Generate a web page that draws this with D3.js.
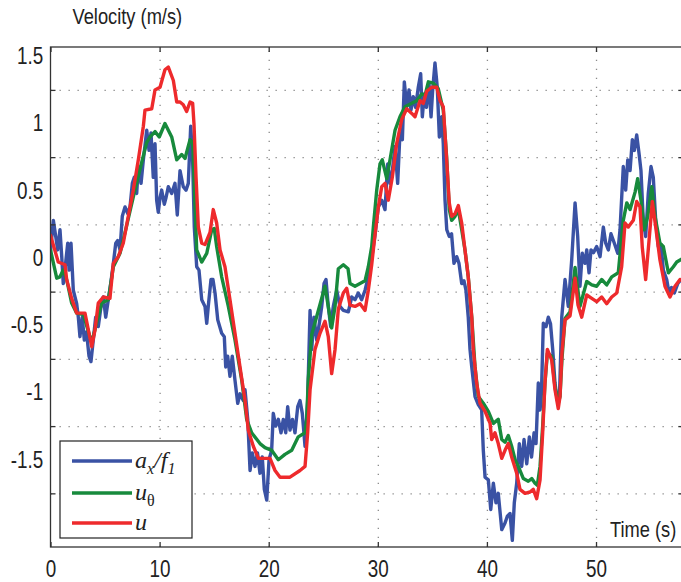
<!DOCTYPE html>
<html lang="en">
<head>
<meta charset="UTF-8">
<title>Velocity vs time</title>
<script src="https://cdn.jsdelivr.net/npm/d3@7"></script>
<style>
  body { margin: 0; background: #fff; }
  svg { display: block; }
  .tick text { font-family: "Liberation Sans", Arial, sans-serif; font-size: 23px; fill: #222; }
  .grid line { stroke: #8a8a8a; stroke-width: 1.3; stroke-dasharray: 1.3 7.7; }
  .grid path, .ticks path, .labels path { display: none; }
  .ticks line { stroke: #333; stroke-width: 1.3; }
  .frame { fill: none; stroke: #333; stroke-width: 1.3; }
  .series { fill: none; stroke-width: 3.4; stroke-linejoin: round; stroke-linecap: round; }
  .title { font-family: "Liberation Sans", Arial, sans-serif; font-size: 22.3px; fill: #222; }
  .legend text { font-family: "Liberation Serif", "DejaVu Serif", serif; font-size: 24px; font-style: italic; fill: #222; }
</style>
</head>
<body>
<div id="chart"></div>
<script>
// a_x / f_1  (blue)
const blueTime = [
  0, 0.26, 0.48, 0.66, 0.87, 1.03, 1.17, 1.37, 1.58, 1.70,
  1.88, 2.09, 2.40, 2.55, 2.70, 2.91, 3.10, 3.30, 3.53, 3.71,
  3.92, 4.14, 4.38, 4.63, 4.84, 5.06, 5.30, 5.52, 5.76, 5.98,
  6.16, 6.37, 6.58, 6.83, 7.08, 7.29, 7.50, 7.68, 7.90, 8.05,
  8.30, 8.51, 8.82, 9.03, 9.21, 9.42, 9.58, 9.73, 9.88, 10.04,
  10.19, 10.43, 10.59, 10.80, 11.11, 11.41, 11.62, 11.87, 12.17, 12.42,
  12.63, 12.85, 13.02, 13.18, 13.40, 13.61, 13.86, 14.16, 14.32, 14.46,
  14.71, 14.89, 15.08, 15.33, 15.69, 15.93, 16.06, 16.24, 16.45, 16.66,
  16.91, 17.16, 17.37, 17.67, 17.83, 18.08, 18.29, 18.50, 18.74, 18.97,
  19.20, 19.41, 19.60, 19.82, 20.03, 20.27, 20.42, 20.64, 20.88, 21.13,
  21.34, 21.56, 21.74, 21.95, 22.18, 22.41, 22.66, 22.87, 23.08, 23.33,
  23.57, 23.79, 23.94, 24.15, 24.40, 24.64, 24.86, 25.07, 25.25, 25.46,
  25.68, 25.92, 26.23, 26.53, 26.84, 27.30, 27.61, 27.91, 28.21, 28.52,
  28.83, 29.13, 29.44, 29.74, 30.05, 30.36, 30.66, 30.91, 31.12, 31.33,
  31.58, 31.82, 32.03, 32.25, 32.43, 32.65, 32.86, 33.04, 33.25, 33.46,
  33.71, 33.93, 34.08, 34.26, 34.46, 34.69, 34.88, 35.03, 35.24, 35.45,
  35.64, 35.86, 36.00, 36.16, 36.32, 36.55, 36.76, 36.98, 37.23, 37.44,
  37.69, 37.90, 38.08, 38.29, 38.45, 38.61, 38.91, 39.21, 39.52, 39.67,
  39.83, 40.13, 40.35, 40.59, 40.83, 41.04, 41.36, 41.66, 41.87, 42.12,
  42.33, 42.51, 42.73, 42.97, 43.19, 43.40, 43.65, 43.89, 44.09, 44.32,
  44.50, 44.71, 44.87, 45.00, 45.17, 45.42, 45.63, 45.83, 46.03, 46.24,
  46.45, 46.65, 46.86, 47.16, 47.46, 47.77, 48.08, 48.32, 48.53, 48.74,
  48.99, 49.15, 49.36, 49.54, 49.77, 50.06, 50.37, 50.67, 50.89, 51.13,
  51.37, 51.68, 51.99, 52.20, 52.50, 52.72, 52.91, 53.12, 53.33, 53.51,
  53.73, 53.94, 54.12, 54.33, 54.55, 54.79, 55.04, 55.25, 55.47, 55.71,
  55.96, 56.17, 56.48, 56.69, 56.92, 57.18, 57.49, 57.79, 58.0
];
const blueVel = [
  0.05, 0.28, 0.16, 0.06, 0.21, 0.01, -0.19, -0.05, 0.11, -0.09,
  0.11, -0.24, -0.34, -0.44, -0.585, -0.44, -0.61, -0.55, -0.73, -0.77,
  -0.61, -0.44, -0.51, -0.36, -0.29, -0.44, -0.31, -0.19, -0.04, 0.11,
  0.13, 0.06, 0.31, 0.38, 0.33, 0.38, 0.555, 0.60, 0.48, 0.68,
  0.555, 0.73, 0.95, 0.80, 0.93, 0.60, 0.85, 0.43, 0.34, 0.45,
  0.505, 0.40, 0.45, 0.53, 0.48, 0.555, 0.32, 0.65, 0.53, 0.505,
  0.555, 0.98, 0.75, 0.23, -0.065, -0.09, -0.31, -0.36, -0.485, -0.36,
  -0.16, -0.16, -0.26, -0.46, -0.56, -0.585, -0.81, -0.73, -0.88, -0.73,
  -0.91, -1.08, -1.01, -1.06, -0.98, -1.20, -1.58, -1.45, -1.55, -1.45,
  -1.60, -1.48, -1.72, -1.80, -1.50, -1.43, -1.155, -1.25, -1.20, -1.30,
  -1.20, -1.30, -1.105, -1.28, -1.20, -1.30, -1.105, -1.06, -1.155, -1.40,
  -1.06, -0.39, -0.68, -0.44, -0.61, -0.485, -0.36, -0.19, -0.16, -0.36,
  -0.51, -0.36, -0.24, -0.36, -0.39, -0.40, -0.29, -0.31, -0.26, -0.31,
  -0.24, -0.14, 0.0, 0.17, 0.38, 0.43, 0.36, 0.70, 0.555, 0.65,
  0.83, 0.555, 0.93, 0.88, 1.31, 1.125, 1.25, 1.10, 1.20, 1.12,
  1.27, 1.37, 1.05, 1.22, 1.12, 1.30, 1.05, 1.25, 1.45, 1.27,
  0.90, 1.05, 0.85, 0.43, 0.21, 0.16, 0.18, -0.04, 0.01, -0.04,
  -0.19, -0.17, -0.24, -0.44, -0.68, -0.81, -1.03, -1.09, -1.13, -1.43,
  -1.63, -1.65, -1.87, -1.675, -1.82, -1.75, -2.02, -1.97, -1.92, -1.90,
  -2.10, -1.82, -1.675, -1.38, -1.55, -1.35, -1.53, -1.33, -1.48, -1.30,
  -1.38, -0.93, -1.13, -1.00, -0.485, -0.51, -0.44, -0.49, -0.68, -0.93,
  -1.06, -1.03, -0.44, -0.16, -0.36, -0.015, 0.41, 0.16, -0.21, 0.035,
  -0.04, 0.06, -0.11, 0.06, 0.04, 0.085, 0.01, 0.23, 0.11, 0.06,
  0.18, 0.11, 0.035, 0.21, 0.68, 0.505, 0.73, 0.65, 0.88, 0.80,
  0.915, 0.78, 0.65, 0.28, 0.16, 0.48, 0.68, 0.60, 0.28, 0.085,
  0.10, -0.09, -0.16, -0.26, -0.22, -0.26, -0.19, -0.16, -0.17
];

// u_theta  (green)
const greenTime = [
  0, 0.57, 0.87, 1.17, 1.48, 1.94, 2.40, 3.01, 3.78, 4.23,
  4.69, 5.30, 5.76, 6.37, 6.98, 7.59, 8.20, 8.82, 9.12, 9.58,
  9.97, 10.49, 11.11, 11.57, 12.03, 12.33, 12.79, 13.03, 13.20, 13.40,
  13.86, 14.32, 14.78, 15.01, 15.23, 15.69, 16.30, 16.91, 17.53, 17.98,
  18.44, 19.20, 19.66, 20.27, 20.88, 21.49, 22.11, 22.71, 23.33, 23.48,
  23.63, 23.94, 24.55, 25.16, 25.46, 25.77, 26.08, 26.38, 26.84, 27.27,
  27.45, 27.91, 28.37, 28.83, 29.13, 29.44, 29.59, 29.90, 30.20, 30.41,
  30.82, 31.12, 31.58, 32.03, 32.49, 33.11, 33.57, 34.02, 34.33, 34.63,
  35.09, 35.54, 36.00, 36.31, 36.55, 36.77, 37.08, 37.38, 37.69, 37.99,
  38.29, 38.61, 38.91, 39.21, 39.67, 40.13, 40.59, 41.04, 41.36, 41.66,
  41.96, 42.27, 42.58, 42.88, 43.34, 43.79, 44.11, 44.41, 44.62, 44.87,
  45.11, 45.32, 45.54, 45.94, 46.24, 46.54, 46.70, 46.88, 47.16, 47.62,
  48.08, 48.53, 49.15, 49.61, 50.06, 50.52, 50.98, 51.44, 52.04, 52.50,
  52.82, 53.12, 53.58, 53.82, 54.12, 54.43, 54.74, 55.11, 55.41, 55.86,
  56.17, 56.63, 57.09, 57.40, 58.0
];
const greenVel = [
  0.06, -0.15, -0.14, -0.09, -0.16, -0.335, -0.41, -0.42, -0.63, -0.48,
  -0.335, -0.31, -0.065, 0.035, 0.24, 0.455, 0.66, 0.86, 0.90, 0.94,
  0.90, 1.00, 0.90, 0.73, 0.77, 0.74, 0.88, 0.86, 0.50, 0.06,
  -0.03, 0.035, 0.21, 0.22, 0.085, -0.14, -0.36, -0.61, -0.91, -1.20,
  -1.30, -1.38, -1.41, -1.43, -1.50, -1.46, -1.43, -1.33, -1.30, -1.20,
  -0.90, -0.57, -0.39, -0.21, -0.36, -0.52, -0.36, -0.08, -0.05, -0.08,
  -0.19, -0.21, -0.19, -0.17, -0.065, 0.085, 0.23, 0.505, 0.70, 0.73,
  0.59, 0.73, 0.95, 1.05, 1.125, 1.15, 1.17, 1.22, 1.21, 1.31,
  1.30, 1.26, 1.10, 0.75, 0.36, 0.28, 0.31, 0.36, 0.21, 0.06,
  -0.14, -0.44, -0.81, -1.03, -1.08, -1.14, -1.23, -1.20, -1.35, -1.37,
  -1.32, -1.40, -1.50, -1.55, -1.64, -1.66, -1.64, -1.675, -1.69, -1.55,
  -1.25, -0.93, -0.71, -0.73, -0.96, -1.08, -1.03, -0.75, -0.45, -0.40,
  -0.07, -0.36, -0.175, -0.20, -0.21, -0.16, -0.20, -0.14, -0.11, 0.28,
  0.41, 0.36, 0.49, 0.59, 0.43, 0.21, 0.31, 0.53, 0.31, 0.11,
  0.085, -0.11, -0.065, -0.03, 0.0
];

// u  (red)
const redTime = [
  0, 0.71, 1.33, 1.48, 1.94, 2.40, 3.16, 3.78, 4.08, 4.38,
  4.84, 5.45, 5.76, 6.21, 6.67, 7.13, 7.59, 8.05, 8.51, 8.66,
  9.28, 9.58, 10.04, 10.49, 10.80, 11.26, 11.57, 11.87, 12.17, 12.48,
  12.79, 13.03, 13.15, 13.34, 13.55, 13.86, 14.16, 14.62, 14.92, 15.23,
  15.54, 15.99, 16.45, 16.91, 17.37, 17.83, 18.13, 18.59, 19.05, 20.12,
  20.58, 21.04, 21.95, 22.87, 23.33, 23.57, 23.79, 24.24, 24.70, 25.16,
  25.46, 25.77, 26.08, 26.38, 26.84, 27.15, 27.45, 27.91, 28.37, 28.83,
  29.13, 29.44, 29.74, 30.05, 30.36, 30.66, 30.96, 31.33, 31.73, 32.19,
  32.65, 33.11, 33.41, 33.87, 34.17, 34.48, 34.94, 35.40, 35.70, 36.00,
  36.31, 36.55, 36.77, 37.08, 37.38, 37.69, 37.99, 38.29, 38.61, 38.75,
  39.06, 39.37, 39.83, 40.29, 40.44, 40.74, 41.04, 41.36, 41.66, 41.96,
  42.27, 42.73, 43.03, 43.49, 43.95, 44.25, 44.56, 44.87, 45.11, 45.32,
  45.54, 45.94, 46.24, 46.54, 46.70, 46.88, 47.16, 47.62, 48.08, 48.35,
  48.69, 49.15, 49.61, 50.06, 50.52, 50.98, 51.44, 51.90, 52.35, 52.66,
  52.96, 53.42, 53.73, 54.03, 54.24, 54.55, 54.86, 55.16, 55.47, 55.86,
  56.32, 56.78, 57.24, 57.70, 58.0
];
const redVel = [
  0.17, -0.03, -0.05, -0.16, -0.30, -0.41, -0.41, -0.66, -0.535, -0.335,
  -0.29, -0.30, -0.04, 0.01, 0.11, 0.31, 0.505, 0.73, 0.98, 1.10,
  1.11, 1.25, 1.27, 1.40, 1.42, 1.32, 1.16, 1.16, 1.14, 1.09,
  1.16, 1.15, 1.00, 0.60, 0.23, 0.11, 0.10, 0.19, 0.36, 0.26,
  0.06, -0.065, -0.31, -0.56, -0.81, -1.06, -1.28, -1.40, -1.49, -1.49,
  -1.58, -1.63, -1.63, -1.58, -1.55, -1.30, -0.98, -0.68, -0.56, -0.47,
  -0.585, -0.86, -0.68, -0.38, -0.26, -0.225, -0.35, -0.36, -0.34, -0.39,
  -0.24, -0.05, 0.17, 0.38, 0.53, 0.555, 0.43, 0.60, 0.85, 1.03,
  1.11, 1.075, 1.05, 1.17, 1.15, 1.24, 1.27, 1.27, 1.17, 1.125,
  0.73, 0.41, 0.31, 0.33, 0.39, 0.26, 0.06, -0.14, -0.44, -0.68,
  -0.93, -1.08, -1.14, -1.23, -1.35, -1.30, -1.38, -1.49, -1.43, -1.38,
  -1.48, -1.60, -1.72, -1.75, -1.74, -1.72, -1.79, -1.65, -1.30, -0.93,
  -0.68, -0.76, -0.98, -1.12, -1.03, -0.70, -0.46, -0.43, -0.15, -0.35,
  -0.44, -0.275, -0.30, -0.325, -0.29, -0.34, -0.29, -0.26, -0.065, 0.26,
  0.23, 0.28, 0.42, 0.38, 0.08, -0.16, 0.13, 0.42, 0.23, -0.015,
  -0.21, -0.29, -0.21, -0.16, -0.17
];

const xTicks = [0, 10, 20, 30, 40, 50];
const yLabels = [-1.5, -1, -0.5, 0, 0.5, 1, 1.5];
const yGrid = [-1.75, -1.25, -0.75, -0.25, 0.25, 0.75, 1.25];

const series = [
  { time: blueTime, vel: blueVel, color: "#3a52a4",
    label: [{ t: "a" }, { t: "x", sub: true }, { t: "/f" }, { t: "1", sub: true }] },
  { time: greenTime, vel: greenVel, color: "#178a3c",
    label: [{ t: "u" }, { t: "\u03b8", sub: true, upright: true }] },
  { time: redTime, vel: redVel, color: "#ee2a2c",
    label: [{ t: "u" }] }
];

const width = 681, height = 582;
const plotLeft = 50.5, plotRight = 683.3, plotTop = 47, plotBottom = 547;
const narrow = "scale(0.82,1)";   // condensed look, no narrow font installed

const svg = d3.select("#chart").append("svg")
  .attr("width", width)
  .attr("height", height);

const x = d3.scaleLinear().domain([0, 58]).range([plotLeft, plotRight]);
const y = d3.scaleLinear().domain([-2.149, 1.569]).range([plotBottom, plotTop]);

// dotted grid
svg.append("g")
  .attr("class", "grid")
  .attr("transform", `translate(0,${plotBottom})`)
  .call(d3.axisBottom(x).tickValues(xTicks.slice(1)).tickSize(-(plotBottom - plotTop)).tickFormat(""));

svg.append("g")
  .attr("class", "grid")
  .attr("transform", `translate(${plotLeft},0)`)
  .call(d3.axisLeft(y).tickValues(yGrid).tickSize(-(plotRight - plotLeft)).tickFormat(""));

// curves
svg.append("clipPath").attr("id", "plot-clip")
  .append("rect")
  .attr("x", plotLeft).attr("y", plotTop)
  .attr("width", plotRight - plotLeft).attr("height", plotBottom - plotTop);

const line = d3.line()
  .x(d => x(d[0]))
  .y(d => y(d[1]));

svg.append("g")
  .attr("clip-path", "url(#plot-clip)")
  .selectAll("path")
  .data(series)
  .enter().append("path")
  .attr("class", "series")
  .attr("stroke", d => d.color)
  .attr("d", d => line(d.time.map((t, i) => [t, d.vel[i]])));

// frame and inward ticks
svg.append("rect")
  .attr("class", "frame")
  .attr("x", plotLeft).attr("y", plotTop)
  .attr("width", plotRight - plotLeft).attr("height", plotBottom - plotTop);

svg.append("g")
  .attr("class", "ticks")
  .attr("transform", `translate(0,${plotBottom})`)
  .call(d3.axisBottom(x).tickValues(xTicks).tickSize(-5).tickPadding(14).tickFormat(d => String(d)));

svg.append("g")
  .attr("class", "ticks")
  .attr("transform", `translate(0,${plotTop})`)
  .call(d3.axisTop(x).tickValues(xTicks).tickSize(-5).tickFormat(""));

svg.append("g")
  .attr("class", "ticks")
  .attr("transform", `translate(${plotLeft},0)`)
  .call(d3.axisLeft(y).tickValues(yGrid).tickSize(-5).tickFormat(""));

svg.append("g")
  .attr("class", "ticks")
  .attr("transform", `translate(${plotRight},0)`)
  .call(d3.axisRight(y).tickValues(yGrid).tickSize(-5).tickFormat(""));

// y tick labels sit at the half units
svg.append("g")
  .attr("class", "labels")
  .attr("transform", `translate(${plotLeft},0)`)
  .call(d3.axisLeft(y).tickValues(yLabels).tickSize(0).tickPadding(9).tickFormat(d => String(d)));

svg.selectAll(".ticks text, .labels text").attr("transform", narrow);

// axis titles
svg.append("text").attr("class", "title")
  .attr("transform", `translate(72.5,24) ${narrow}`)
  .text("Velocity (m/s)");

svg.append("text").attr("class", "title")
  .attr("transform", `translate(610,537) ${narrow}`)
  .text("Time (s)");

// legend
const legend = svg.append("g").attr("class", "legend");
legend.append("rect")
  .attr("x", 60).attr("y", 441)
  .attr("width", 132).attr("height", 97)
  .attr("fill", "#fff").attr("stroke", "#222").attr("stroke-width", 1.2);

const rows = [461, 493, 523];
series.forEach((s, i) => {
  legend.append("line")
    .attr("x1", 72).attr("x2", 132)
    .attr("y1", rows[i]).attr("y2", rows[i])
    .attr("stroke", s.color).attr("stroke-width", 3.4);

  const txt = legend.append("text")
    .attr("x", 135).attr("y", rows[i] + 7);
  let shifted = false;
  s.label.forEach(p => {
    const ts = txt.append("tspan").text(p.t);
    if (p.sub && !shifted) { ts.attr("dy", 6).style("font-size", "16px"); shifted = true; }
    else if (!p.sub && shifted) { ts.attr("dy", -6); shifted = false; }
    else if (p.sub) { ts.style("font-size", "16px"); }
    if (p.upright) ts.style("font-style", "normal");
  });
});
</script>
</body>
</html>
